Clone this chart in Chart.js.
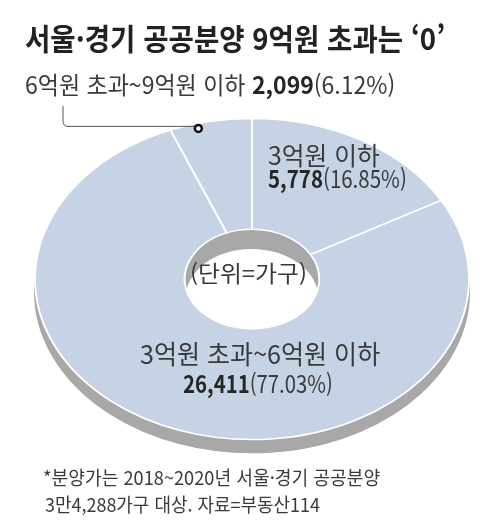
<!DOCTYPE html>
<html lang="ko">
<head>
<meta charset="utf-8">
<script src="https://cdn.jsdelivr.net/npm/chart.js@4"></script>
<style>
  body { margin: 0; background: #fff; }
  #wrap { position: relative; width: 485px; height: 528px; overflow: hidden; font-family: "Noto Sans CJK KR", "Noto Sans", sans-serif; color: #3a3a3a; }
  #chart { position: absolute; left: 0; top: 0; }
  .t { position: absolute; white-space: nowrap; line-height: 1; transform-origin: 0 0; }
  .t b { color: #262626; }
</style>
</head>
<body>
<div id="wrap">
  <canvas id="chart" width="485" height="528"></canvas>
  <div class="t" id="title" data-x="25" data-y="22" data-w="420" style="font-size:30px;font-weight:700;color:#222">서울·경기 공공분양 9억원 초과는 ‘0’</div>
  <div class="t" id="lblTop" data-x="25" data-y="72" data-w="370" style="font-size:24px"></div>
  <div class="t" id="lblA1" data-x="268" data-y="142" data-w="112" style="font-size:25px"></div>
  <div class="t" id="lblA2" data-x="268" data-y="166" data-w="139" style="font-size:24px"></div>
  <div class="t" id="lblB1" data-x="140" data-y="340" data-w="240" style="font-size:26px"></div>
  <div class="t" id="lblB2" data-x="183" data-y="371" data-w="150" style="font-size:24px"></div>
  <div class="t" id="unit" data-x="190" data-y="261" data-w="117" style="font-size:23px">(단위=가구)</div>
  <div class="t" id="foot1" data-x="43" data-y="467" data-w="337" style="font-size:19px">*분양가는 2018~2020년 서울·경기 공공분양</div>
  <div class="t" id="foot2" data-x="45" data-y="494" data-w="275" style="font-size:19px">3만4,288가구 대상. 자료=부동산114</div>
</div>
<script>
// clockwise from 12 o'clock
const categories = ['3억원 이하', '3억원 초과~6억원 이하', '6억원 초과~9억원 이하'];
const households = [5778, 26411, 2099];
const shares = [16.85, 77.03, 6.12];

const TILT = 0.74;        // vertical squash of the disc
const SLICE = '#c5d3e5';
const SIDE = '#a8a8a8';

function num(i) {
  return '<b>' + households[i].toLocaleString('en-US') + '</b>(' + shares[i].toFixed(2) + '%)';
}
document.getElementById('lblA1').textContent = categories[0];
document.getElementById('lblA2').innerHTML = num(0);
document.getElementById('lblB1').textContent = categories[1];
document.getElementById('lblB2').innerHTML = num(1);
document.getElementById('lblTop').innerHTML = categories[2] + ' ' + num(2);

// squeeze each text line to the width it has in the print graphic
document.querySelectorAll('.t').forEach(el => {
  el.style.left = el.dataset.x + 'px';
  el.style.top = el.dataset.y + 'px';
  const sx = el.dataset.w / el.offsetWidth;
  el.style.transform = 'scaleX(' + sx + ')';
});

// draw the arcs again, shifted down and in grey, to fake the disc's thickness
function drawSide(chart, dy, clip) {
  const ctx = chart.ctx;
  const arcs = chart.getDatasetMeta(0).data;
  const {x, y, outerRadius} = arcs[0];
  ctx.save();
  if (clip) {
    ctx.beginPath();
    ctx.ellipse(x, y, outerRadius, outerRadius * TILT, 0, 0, Math.PI * 2);
    ctx.clip();
  }
  ctx.translate(x, y + dy);
  ctx.scale(1, TILT);
  ctx.translate(-x, -y);
  arcs.forEach(a => {
    const ghost = Object.assign({}, a, {
      options: Object.assign({}, a.options, {backgroundColor: SIDE, borderColor: SIDE})
    });
    a.draw.call(ghost, ctx);
  });
  ctx.restore();
}

const tilt = {
  id: 'tilt',
  beforeDatasetsDraw(chart) {
    drawSide(chart, 19, true);   // inner wall seen through the hole
    drawSide(chart, 13, false);  // outer rim
    const ctx = chart.ctx;
    const {x, y} = chart.getDatasetMeta(0).data[0];
    ctx.save();
    ctx.translate(x, y);
    ctx.scale(1, TILT);
    ctx.translate(-x, -y);
  },
  afterDatasetsDraw(chart) {
    chart.ctx.restore();
  },
  afterDraw(chart) {
    // leader from the top label to the small slice
    const ctx = chart.ctx;
    const a = chart.getDatasetMeta(0).data[2];
    const ang = a.startAngle + (a.endAngle - a.startAngle) * 0.33;
    const r = a.outerRadius * 0.97;
    const mx = a.x + r * Math.cos(ang);
    const my = a.y + r * Math.sin(ang) * TILT;
    const lx = 63, ly = 106, hy = my - 2;
    ctx.save();
    ctx.strokeStyle = '#555';
    ctx.lineWidth = 1;
    ctx.beginPath();
    ctx.moveTo(lx, ly);
    ctx.lineTo(lx, hy - 5);
    ctx.quadraticCurveTo(lx, hy, lx + 5, hy);
    ctx.lineTo(mx, hy);
    ctx.stroke();
    ctx.beginPath();
    ctx.arc(mx, my, 3.5, 0, Math.PI * 2);
    ctx.fillStyle = '#fff';
    ctx.fill();
    ctx.lineWidth = 2.5;
    ctx.strokeStyle = '#111';
    ctx.stroke();
    ctx.restore();
  }
};

new Chart(document.getElementById('chart'), {
  type: 'doughnut',
  data: {
    labels: categories,
    datasets: [{
      data: households,
      backgroundColor: SLICE,
      borderColor: '#fff',
      borderWidth: 2
    }]
  },
  options: {
    responsive: false,
    animation: false,
    cutout: '31%',
    layout: { padding: { left: 34, right: 15, top: 61, bottom: 31 } },
    plugins: {
      legend: { display: false },
      tooltip: { enabled: false }
    }
  },
  plugins: [tilt]
});
</script>
</body>
</html>
